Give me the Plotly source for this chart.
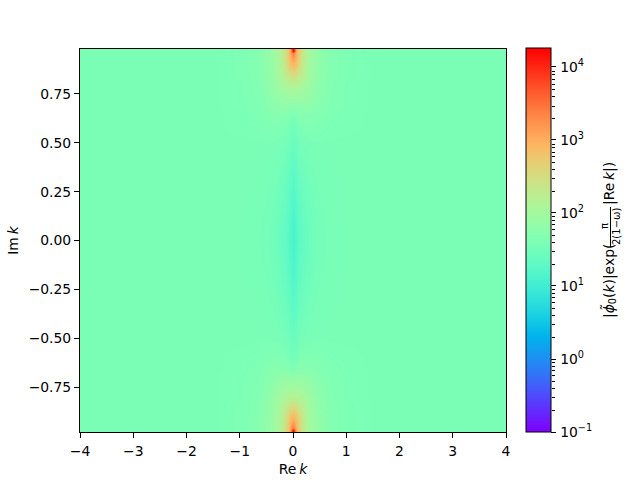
import numpy as np
import plotly.graph_objects as go

# Half-grid (values are log10 of the colour quantity)
re_k = [0, 0.05, 0.1, 0.15, 0.2, 0.3, 0.4, 0.5, 0.7, 1.0, 1.5, 4.0]
im_k = [0.98, 0.97, 0.96, 0.94, 0.92, 0.90, 0.87, 0.84, 0.80, 0.75, 0.70, 0.65, 0.60, 0.50, 0.40, 0.25, 0.10, 0.0]
log_phi = [
    [4.26, 3.10, 2.75, 2.45, 2.25, 2.03, 1.90, 1.80, 1.68, 1.61, 1.58, 1.58],
    [4.20, 3.08, 2.75, 2.45, 2.25, 2.03, 1.90, 1.80, 1.68, 1.61, 1.58, 1.58],
    [3.40, 3.02, 2.75, 2.45, 2.25, 2.03, 1.90, 1.80, 1.68, 1.61, 1.58, 1.58],
    [3.20, 2.95, 2.70, 2.43, 2.25, 2.03, 1.90, 1.80, 1.68, 1.61, 1.58, 1.58],
    [3.05, 2.88, 2.65, 2.40, 2.22, 2.02, 1.90, 1.80, 1.68, 1.61, 1.58, 1.58],
    [2.90, 2.78, 2.60, 2.38, 2.22, 2.01, 1.89, 1.79, 1.68, 1.61, 1.58, 1.58],
    [2.70, 2.60, 2.46, 2.33, 2.18, 1.99, 1.88, 1.78, 1.67, 1.61, 1.58, 1.58],
    [2.46, 2.40, 2.33, 2.25, 2.14, 1.97, 1.87, 1.77, 1.67, 1.61, 1.58, 1.58],
    [2.18, 2.16, 2.13, 2.10, 2.05, 1.94, 1.85, 1.76, 1.66, 1.60, 1.58, 1.58],
    [1.98, 1.97, 1.96, 1.95, 1.93, 1.87, 1.81, 1.73, 1.65, 1.60, 1.58, 1.58],
    [1.81, 1.82, 1.83, 1.83, 1.82, 1.79, 1.75, 1.70, 1.63, 1.60, 1.58, 1.58],
    [1.62, 1.65, 1.69, 1.71, 1.72, 1.72, 1.70, 1.67, 1.62, 1.59, 1.58, 1.58],
    [1.52, 1.55, 1.59, 1.62, 1.64, 1.65, 1.65, 1.63, 1.60, 1.59, 1.58, 1.58],
    [1.40, 1.45, 1.50, 1.53, 1.55, 1.57, 1.58, 1.58, 1.58, 1.58, 1.58, 1.58],
    [1.32, 1.38, 1.44, 1.47, 1.50, 1.54, 1.56, 1.57, 1.58, 1.58, 1.58, 1.58],
    [1.21, 1.28, 1.35, 1.40, 1.44, 1.49, 1.52, 1.55, 1.57, 1.58, 1.58, 1.58],
    [1.12, 1.20, 1.29, 1.35, 1.39, 1.45, 1.50, 1.53, 1.56, 1.58, 1.58, 1.58],
    [1.09, 1.17, 1.26, 1.33, 1.37, 1.44, 1.49, 1.52, 1.56, 1.58, 1.58, 1.58],
]
z_min, z_max = -1.0, 4.26
major_exp = [-1, 0, 1, 2, 3, 4]
x_ticks = [-4, -3, -2, -1, 0, 1, 2, 3, 4]
y_ticks = [-0.75, -0.5, -0.25, 0, 0.25, 0.5, 0.75]

half = np.array(log_phi)
upper = np.hstack([half[:, :0:-1], half])
z = np.vstack([upper, upper[-2::-1]])          # rows: +0.98 ... -0.98
x_full = [-v for v in re_k[:0:-1]] + re_k
y_full = im_k + [-v for v in im_k[-2::-1]]

def rainbow(t):
    r = min(1, abs(2 * t - 0.5))
    g = np.sin(np.pi * t)
    b = np.cos(np.pi * t / 2)
    return f"rgb({int(r*255)},{int(g*255)},{int(b*255)})"

cscale = [[i / 32, rainbow(i / 32)] for i in range(33)]

FONT = "DejaVu Sans"
W, H = 640, 480
fig = go.Figure()
fig.add_trace(go.Heatmap(
    x=x_full, y=y_full, z=z, zmin=z_min, zmax=z_max, zsmooth="best",
    colorscale=cscale, hoverinfo="skip",
    colorbar=dict(
        x=526 / W, xanchor="left", xpad=0, y=0.5, yanchor="middle", ypad=0,
        thickness=25, thicknessmode="pixels", len=0.8, lenmode="fraction",
        outlinecolor="black", outlinewidth=1, borderwidth=0,
        tickmode="array", tickvals=major_exp,
        ticktext=[f"\u200a10<sup>{str(e).replace('-', '−')}</sup>" for e in major_exp],
        ticks="outside", ticklen=5, tickwidth=1, tickcolor="black",
        tickfont=dict(family=FONT, size=13.9, color="black"),
    ),
))
minor_vals = [e + np.log10(m) for e in range(-1, 5) for m in range(2, 10) if e + np.log10(m) <= z_max]
fig.add_trace(go.Scatter(x=[None], y=[None], yaxis="y2", showlegend=False, hoverinfo="skip"))

fig.update_layout(
    width=W, height=H, autosize=False, paper_bgcolor="white", plot_bgcolor="white",
    margin=dict(l=0, r=0, t=0, b=0, pad=0, autoexpand=False),
    font=dict(family=FONT, size=13.9, color="black"),
    showlegend=False,
    xaxis=dict(
        domain=[80 / W, 506 / W], range=[-4, 4], tickmode="array", tickvals=x_ticks,
        ticks="outside", ticklen=5, tickwidth=1, tickcolor="black", ticklabelstandoff=1,
        showline=True, linecolor="black", linewidth=1, mirror=True, showgrid=False, zeroline=False,
        title=dict(text="Re\u2009<i>k</i>", standoff=6, font=dict(family=FONT, size=13.9)),
    ),
    yaxis=dict(
        domain=[48 / H, 431 / H], range=[-0.98, 0.98], tickmode="array", tickvals=y_ticks, tickformat=".2f",
        ticks="outside", ticklen=5, tickwidth=1, tickcolor="black",
        showline=True, linecolor="black", linewidth=1, mirror=True, showgrid=False, zeroline=False,
        title=dict(text="Im\u2009<i>k</i>", standoff=6, font=dict(family=FONT, size=13.9)),
    ),
    yaxis2=dict(
        domain=[48 / H, 432 / H], range=[z_min, z_max], overlaying="y", anchor="free", position=551 / W,
        side="right", showgrid=False, zeroline=False, showline=False, showticklabels=False, ticks="",
        minor=dict(tickmode="array", tickvals=minor_vals, ticks="outside", ticklen=3, tickwidth=1,
                   tickcolor="black", showgrid=False),
    ),
)

def label(text, px, py, size=13.9):
    fig.add_annotation(text=text, xref="paper", yref="paper", x=px / W, y=1 - py / H, showarrow=False,
                       textangle=-90, xanchor="center", yanchor="middle",
                       font=dict(family=FONT, size=size, color="black"))

label("|<i>ϕ̃</i><sub>0</sub>(<i>k</i>)|exp(", 609, 281)
label("π", 604, 226, 10)
label("2(1−ω)", 616, 227, 10)
label("|Re\u2009<i>k</i>|)", 609, 184)
fig.add_shape(type="line", xref="paper", yref="paper", x0=610.5 / W, x1=610.5 / W,
              y0=1 - 247 / H, y1=1 - 207 / H, line=dict(color="black", width=1))

fig.write_html("out.html", config={"displayModeBar": False},
               post_script="document.body.style.margin='0';")
